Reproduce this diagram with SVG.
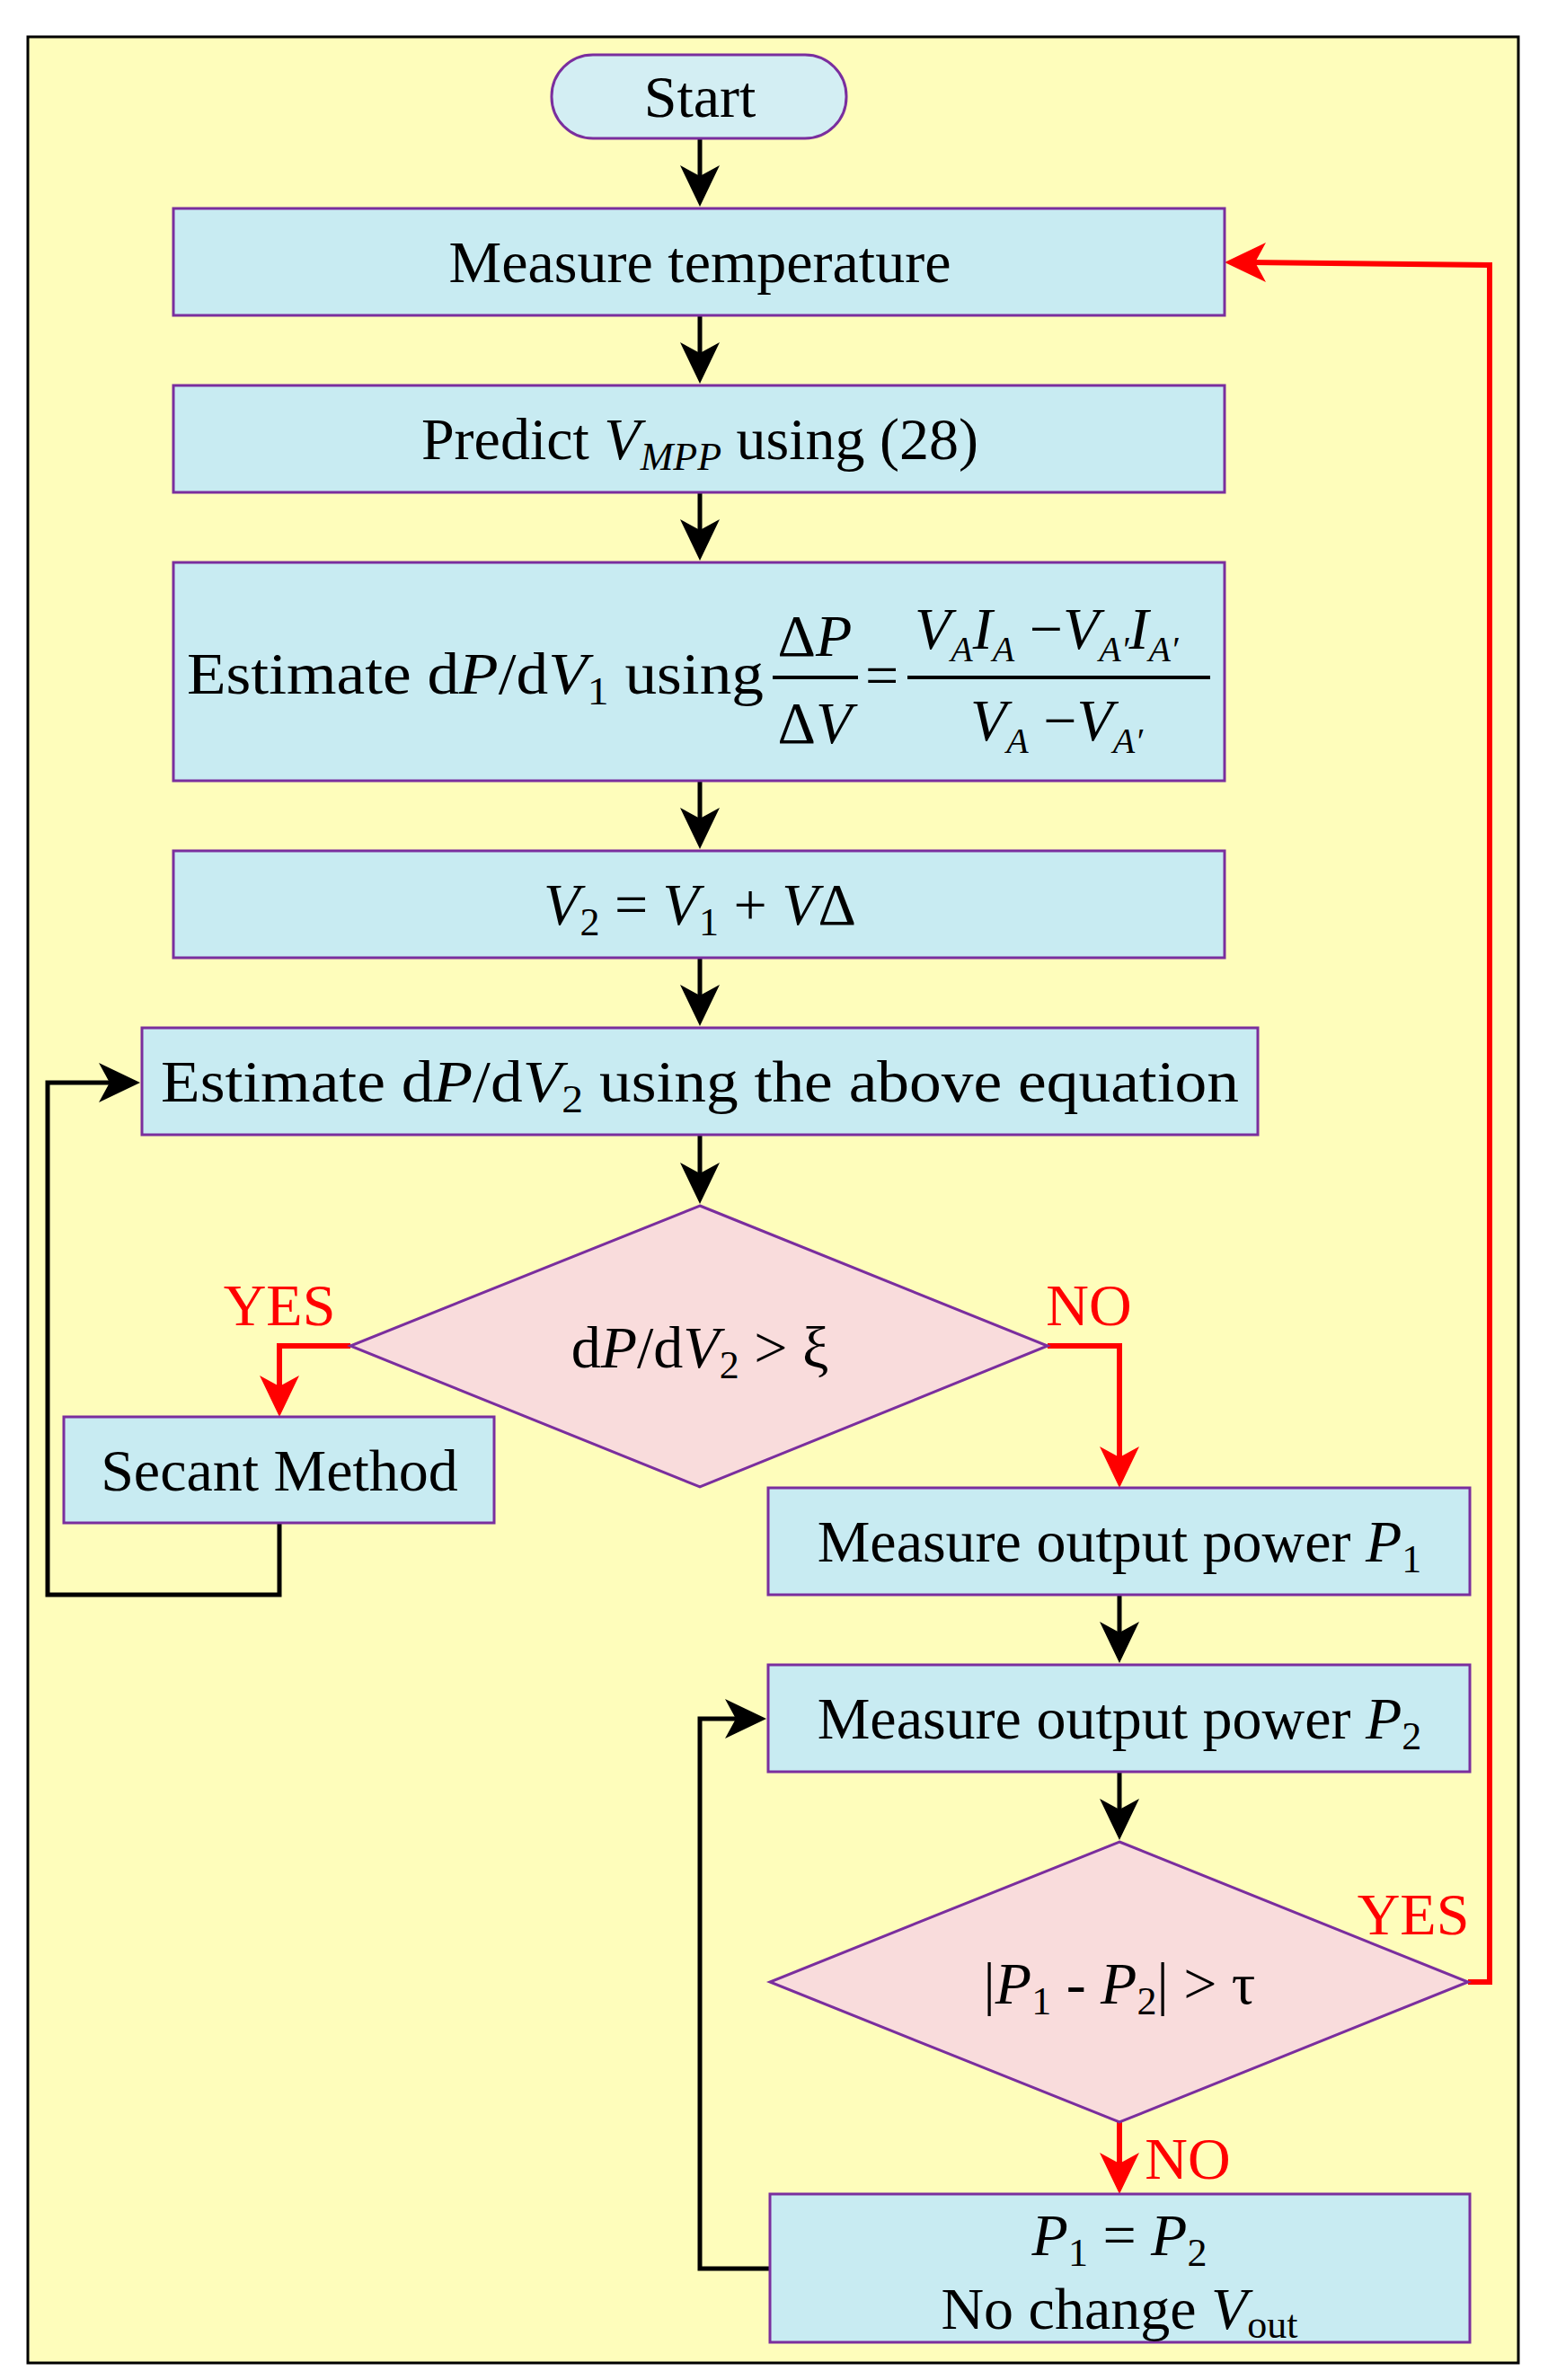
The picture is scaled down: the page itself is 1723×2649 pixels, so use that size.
<svg xmlns="http://www.w3.org/2000/svg" width="1723" height="2649" viewBox="0 0 1723 2649">
<defs>
<style>
.b{fill:#c8ebf2;stroke:#7a2e9e;stroke-width:3}
.d{fill:#f9dcdc;stroke:#7a2e9e;stroke-width:3}
text{font-family:"Liberation Serif",serif;font-size:66px;fill:#000}
.r{fill:#ff0000}
.k{fill:none;stroke:#000;stroke-width:5}
.rd{fill:none;stroke:#ff0000;stroke-width:6}
</style>
</defs>
<rect x="31" y="41" width="1659" height="2589" fill="#fefdbb" stroke="#000" stroke-width="3"/>
<g id="connectors">
<g fill="#000">
<path d="M779,230 l-22,-46 l22,12 l22,-12z"/>
<path d="M779,427 l-22,-46 l22,12 l22,-12z"/>
<path d="M779,624 l-22,-46 l22,12 l22,-12z"/>
<path d="M779,945 l-22,-46 l22,12 l22,-12z"/>
<path d="M779,1142 l-22,-46 l22,12 l22,-12z"/>
<path d="M779,1340 l-22,-46 l22,12 l22,-12z"/>
<path d="M1246,1851 l-22,-46 l22,12 l22,-12z"/>
<path d="M1246,2048 l-22,-46 l22,12 l22,-12z"/>
<path d="M156,1205 l-46,-22 l12,22 l-12,22z"/>
<path d="M853,1913 l-46,-22 l12,22 l-12,22z"/>
</g>
<path class="k" d="M779,154 V203 M779,351 V400 M779,548 V597 M779,869 V918 M779,1066 V1115 M779,1263 V1312 M1246,1775 V1824 M1246,1972 V2021"/>
<path class="k" d="M311,1695 V1775 H53 V1205 H130"/>
<path class="k" d="M857,2525 H779 V1913 H827"/>
<path class="rd" d="M390,1498 H311 V1550 M1166,1498 H1246 V1630 M1634,2206 H1658 V295 L1390,292 M1246,2362 V2415"/>
<g fill="#ff0000">
<path d="M311,1577 l-22,-46 l22,12 l22,-12z"/>
<path d="M1246,1656 l-22,-46 l22,12 l22,-12z"/>
<path d="M1246,2442 l-22,-46 l22,12 l22,-12z"/>
<path d="M1363,292 l46,-22 l-12,22 l12,22z"/>
</g>
<text class="r" x="311" y="1475" text-anchor="middle">YES</text>
<text class="r" x="1212" y="1475" text-anchor="middle">NO</text>
<text class="r" x="1573" y="2153" text-anchor="middle">YES</text>
<text class="r" x="1322" y="2425" text-anchor="middle">NO</text>
</g>
<g id="start"><rect x="614" y="61" width="328" height="93" rx="46" fill="#d3eef3" stroke="#7a2e9e" stroke-width="3"/><text x="779" y="130" text-anchor="middle">Start</text></g>
<g id="temp"><rect class="b" x="193" y="232" width="1170" height="119"/><text x="779" y="314" text-anchor="middle">Measure temperature</text></g>
<g id="predict"><rect class="b" x="193" y="429" width="1170" height="119"/><text x="779" y="511" text-anchor="middle">Predict <tspan font-style="italic">V</tspan><tspan font-style="italic" font-size="44" dy="12">MPP</tspan><tspan dy="-12"> using (28)</tspan></text></g>
<g id="est1"><rect class="b" x="193" y="626" width="1170" height="243"/>
<text x="208" y="772" textLength="642" lengthAdjust="spacingAndGlyphs">Estimate d<tspan font-style="italic">P</tspan>/d<tspan font-style="italic">V</tspan><tspan font-size="44" dy="12">1</tspan><tspan dy="-12"> using</tspan></text>
<line x1="860" y1="754" x2="955" y2="754" stroke="#000" stroke-width="4"/>
<text x="907" y="730" text-anchor="middle">Δ<tspan font-style="italic">P</tspan></text>
<text x="907" y="827" text-anchor="middle">Δ<tspan font-style="italic">V</tspan></text>
<text x="963" y="774">=</text>
<line x1="1010" y1="754" x2="1347" y2="754" stroke="#000" stroke-width="4"/>
<text x="1018" y="722" font-style="italic">V<tspan font-size="40" dy="14">A</tspan><tspan dy="-14">I</tspan><tspan font-size="40" dy="14">A</tspan><tspan dy="-14" font-style="normal"> −</tspan>V<tspan font-size="40" dy="14">A′</tspan><tspan dy="-14">I</tspan><tspan font-size="40" dy="14">A′</tspan></text>
<text x="1080" y="824" font-style="italic">V<tspan font-size="40" dy="14">A</tspan><tspan dy="-14" font-style="normal"> −</tspan>V<tspan font-size="40" dy="14">A′</tspan></text>
</g>
<g id="v2"><rect class="b" x="193" y="947" width="1170" height="119"/><text x="779" y="1029" text-anchor="middle"><tspan font-style="italic">V</tspan><tspan font-size="44" dy="12">2</tspan><tspan dy="-12"> = </tspan><tspan font-style="italic">V</tspan><tspan font-size="44" dy="12">1</tspan><tspan dy="-12"> + </tspan><tspan font-style="italic">V</tspan>Δ</text></g>
<g id="est2"><rect class="b" x="158" y="1144" width="1242" height="119"/><text x="779" y="1226" text-anchor="middle" textLength="1200" lengthAdjust="spacingAndGlyphs">Estimate d<tspan font-style="italic">P</tspan>/d<tspan font-style="italic">V</tspan><tspan font-size="44" dy="12">2</tspan><tspan dy="-12"> using the above equation</tspan></text></g>
<g id="dec1"><polygon class="d" points="779,1342 1166,1498 779,1655 390,1498"/><text x="779" y="1522" text-anchor="middle">d<tspan font-style="italic">P</tspan>/d<tspan font-style="italic">V</tspan><tspan font-size="44" dy="12">2</tspan><tspan dy="-12"> &gt; ξ</tspan></text></g>
<g id="secant"><rect class="b" x="71" y="1577" width="479" height="118"/><text x="311" y="1659" text-anchor="middle">Secant Method</text></g>
<g id="p1"><rect class="b" x="855" y="1656" width="781" height="119"/><text x="1246" y="1738" text-anchor="middle">Measure output power <tspan font-style="italic">P</tspan><tspan font-size="44" dy="12">1</tspan></text></g>
<g id="p2"><rect class="b" x="855" y="1853" width="781" height="119"/><text x="1246" y="1935" text-anchor="middle">Measure output power <tspan font-style="italic">P</tspan><tspan font-size="44" dy="12">2</tspan></text></g>
<g id="dec2"><polygon class="d" points="1246,2050 1634,2206 1246,2362 857,2206"/><text x="1246" y="2230" text-anchor="middle">|<tspan font-style="italic">P</tspan><tspan font-size="44" dy="12">1</tspan><tspan dy="-12"> - </tspan><tspan font-style="italic">P</tspan><tspan font-size="44" dy="12">2</tspan><tspan dy="-12">| &gt; τ</tspan></text></g>
<g id="eq"><rect class="b" x="857" y="2442" width="779" height="165"/><text x="1246" y="2510" text-anchor="middle"><tspan font-style="italic">P</tspan><tspan font-size="44" dy="12">1</tspan><tspan dy="-12"> = </tspan><tspan font-style="italic">P</tspan><tspan font-size="44" dy="12">2</tspan></text><text x="1246" y="2592" text-anchor="middle">No change <tspan font-style="italic">V</tspan><tspan font-size="44" dy="10">out</tspan></text></g>
</svg>
